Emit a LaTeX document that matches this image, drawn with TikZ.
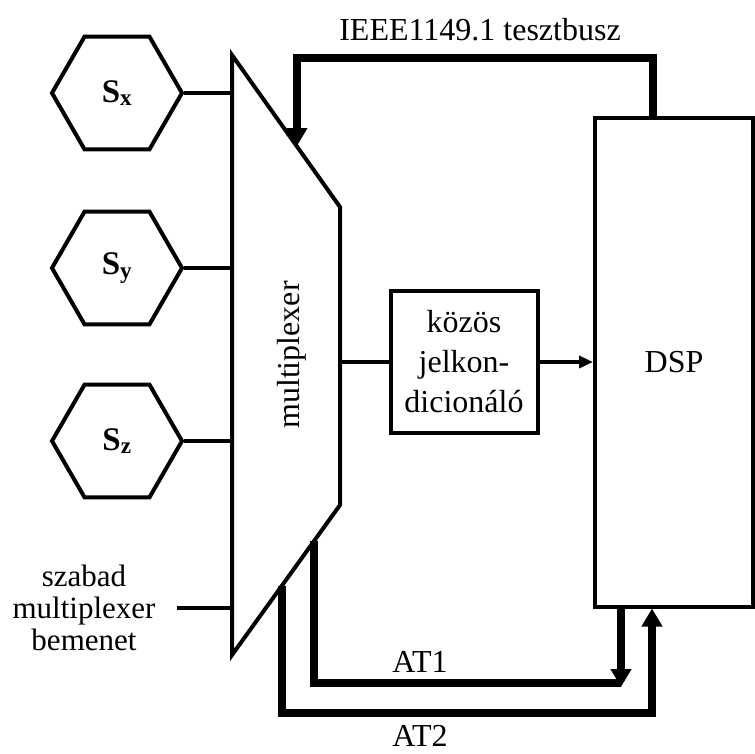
\documentclass[tikz,border=0pt]{standalone}
\usepackage{fontspec}
\setmainfont{Liberation Serif}
\usetikzlibrary{arrows.meta,shapes.geometric,calc}

\begin{document}
\begin{tikzpicture}[x=1pt,y=-1pt,
wire/.style={line width=4pt},
bus/.style={line width=8pt},
sensor/.style={draw, line width=4pt, regular polygon, regular polygon sides=6, minimum size=130pt, inner sep=0pt, font=\bfseries\fontsize{33}{36}\selectfont},
blk/.style={draw, line width=4pt, align=center, font=\fontsize{32}{40}\selectfont},
lbl/.style={align=center, font=\fontsize{32}{34}\selectfont},
bigarr/.style={-{Triangle[length=18pt,width=20pt]}},
smallarr/.style={-{Triangle[length=14pt,width=12pt]}}
]
\useasboundingbox (0,0) rectangle (755,753);
% multiplexer
\coordinate (mtl) at (232,55);
\coordinate (mtr) at (340,207);
\coordinate (mbr) at (340,505);
\coordinate (mbl) at (232,655);
\draw[wire, line join=miter] (mtl) -- (mtr) -- (mbr) -- (mbl) -- cycle;
\node[lbl, rotate=90] (mux) at (292,355) {multiplexer};
\node[sensor] (sx) at (117,93) {S\textsubscript{x}};
\node[sensor] (sy) at (117,268) {S\textsubscript{y}};
\node[sensor] (sz) at (117,441) {S\textsubscript{z}};
\node[lbl, font=\fontsize{31}{32}\selectfont] (free) at (84,608) {szabad\\multiplexer\\bemenet};
\node[blk, minimum width=147pt, minimum height=142pt, inner sep=0pt] (kond) at (464,362) {közös\\jelkon-\\dicionáló};
\node[blk, minimum width=158pt, minimum height=489pt, inner sep=0pt] (dsp) at (674,362) {DSP};
\draw[wire] (sx.east) -- (sx.east -| mtl);
\draw[wire] (sy.east) -- (sy.east -| mtl);
\draw[wire] (sz.east) -- (sz.east -| mtl);
\coordinate (freein) at ($(free.east)+(18,0)$);
\draw[wire] (freein) -- (freein -| mtl);
\draw[wire] (kond.west -| mtr) -- (kond.west);
\draw[wire, smallarr] (kond.east) -- (kond.east -| dsp.west);
% IEEE1149.1 bus
\coordinate (busdsp) at ($(dsp.north west)+(60,0)$);
\coordinate (busmux) at ($(mtl)!0.6!(mtr)$);
\draw[bus, bigarr] (busdsp) -- (busdsp |- 0,58) -| (busmux);
\node[lbl] (ieee) at (480,30) {IEEE1149.1 tesztbusz};
% AT1, AT2
\coordinate (at1mux) at ($(mbl)!0.759!(mbr)$);
\coordinate (at1dsp) at ($(dsp.south west)+(28,0)$);
\coordinate (at2mux) at ($(mbl)!0.463!(mbr)$);
\coordinate (at2dsp) at ($(dsp.south west)+(59,0)$);
\draw[bus] (at1mux) -- (at1mux |- 0,683) -- (at1dsp |- 0,683) ++(4,0);
\draw[bus, bigarr] (at1dsp) -- (at1dsp |- 0,687);
\draw[bus, bigarr] (at2mux) -- (at2mux |- 0,713) -| (at2dsp);
\node[lbl] (at1) at (420,662) {AT1};
\node[lbl] (at2) at (420,736) {AT2};
\end{tikzpicture}
\end{document}
